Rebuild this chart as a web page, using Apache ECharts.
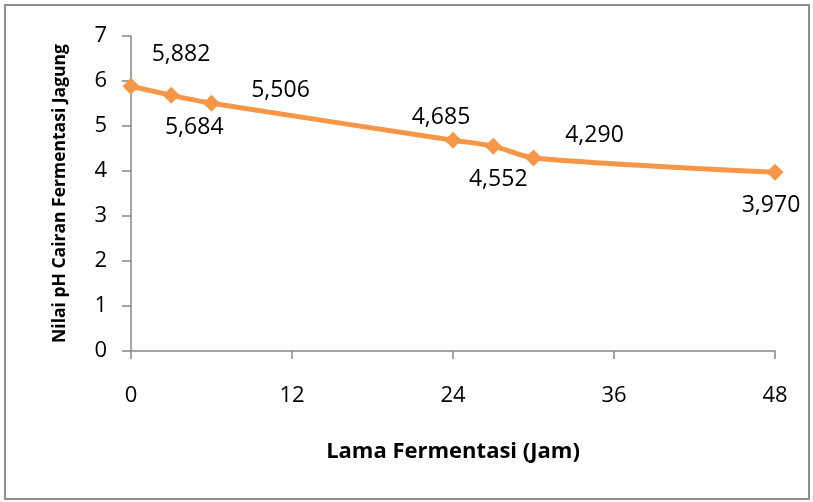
<!DOCTYPE html>
<html>
<head>
<meta charset="utf-8">
<script src="https://cdn.jsdelivr.net/npm/echarts@6/dist/echarts.min.js"></script>
<style>
  html, body { margin: 0; padding: 0; background: #fff; }
  #main { width: 813px; height: 502px; }
</style>
</head>
<body>
<div id="main"></div>
<script>
// lama fermentasi (jam) dan nilai pH
var jam = [0, 3, 6, 24, 27, 30, 48];
var nilaiPH = [5.882, 5.684, 5.506, 4.685, 4.552, 4.290, 3.970];
// label placement, like the excel chart
var labelOffset = [[50, -32], [23, 32], [69, -13], [-12, -23], [5, 33], [61, -22], [-4, 33]];

var myChart = echarts.init(document.getElementById('main'));
var font = '"Open Sans", "Liberation Sans", sans-serif';

var seriesData = jam.map(function (x, i) {
    return {
        value: [x, nilaiPH[i]],
        label: { offset: labelOffset[i] }
    };
});

var option = {
    animation: false,
    graphic: [{
        type: 'rect',
        shape: { x: 5, y: 5, width: 804, height: 494 },
        style: { fill: 'none', stroke: '#8e8e8e', lineWidth: 2 }
    }],
    grid: { left: 131, right: 38, top: 36, bottom: 151 },
    xAxis: {
        type: 'value',
        min: 0, max: 48, interval: 12,
        name: 'Lama Fermentasi (Jam)',
        nameLocation: 'middle',
        nameGap: 90,
        nameTextStyle: { fontFamily: font, fontWeight: 'bold', fontSize: 22, color: '#000' },
        axisLine: { lineStyle: { color: '#868686', width: 1.5 } },
        axisTick: { inside: false, length: 8, lineStyle: { color: '#868686', width: 1.5 } },
        axisLabel: { margin: 34, fontFamily: font, fontSize: 22, color: '#000' },
        splitLine: { show: false }
    },
    yAxis: {
        type: 'value',
        min: 0, max: 7, interval: 1,
        name: 'Nilai pH Cairan Fermentasi Jagung',
        nameLocation: 'middle',
        nameGap: 62,
        nameTextStyle: { fontFamily: font, fontWeight: 'bold', fontSize: 17.5, color: '#000' },
        axisLine: { show: true, lineStyle: { color: '#868686', width: 1.5 } },
        axisTick: { show: true, length: 9, lineStyle: { color: '#868686', width: 1.5 } },
        axisLabel: { margin: 24, fontFamily: font, fontSize: 22, color: '#000' },
        splitLine: { show: false }
    },
    series: [{
        type: 'line',
        data: seriesData,
        smooth: 0.25,
        symbol: 'diamond',
        symbolSize: 17,
        lineStyle: { color: '#F79646', width: 5 },
        itemStyle: { color: '#F79646' },
        label: {
            show: true,
            position: 'inside',
            fontFamily: font,
            fontSize: 23,
            color: '#000',
            formatter: function (p) {
                return p.value[1].toFixed(3).replace('.', ',');
            }
        }
    }]
};

myChart.setOption(option);
</script>
</body>
</html>
